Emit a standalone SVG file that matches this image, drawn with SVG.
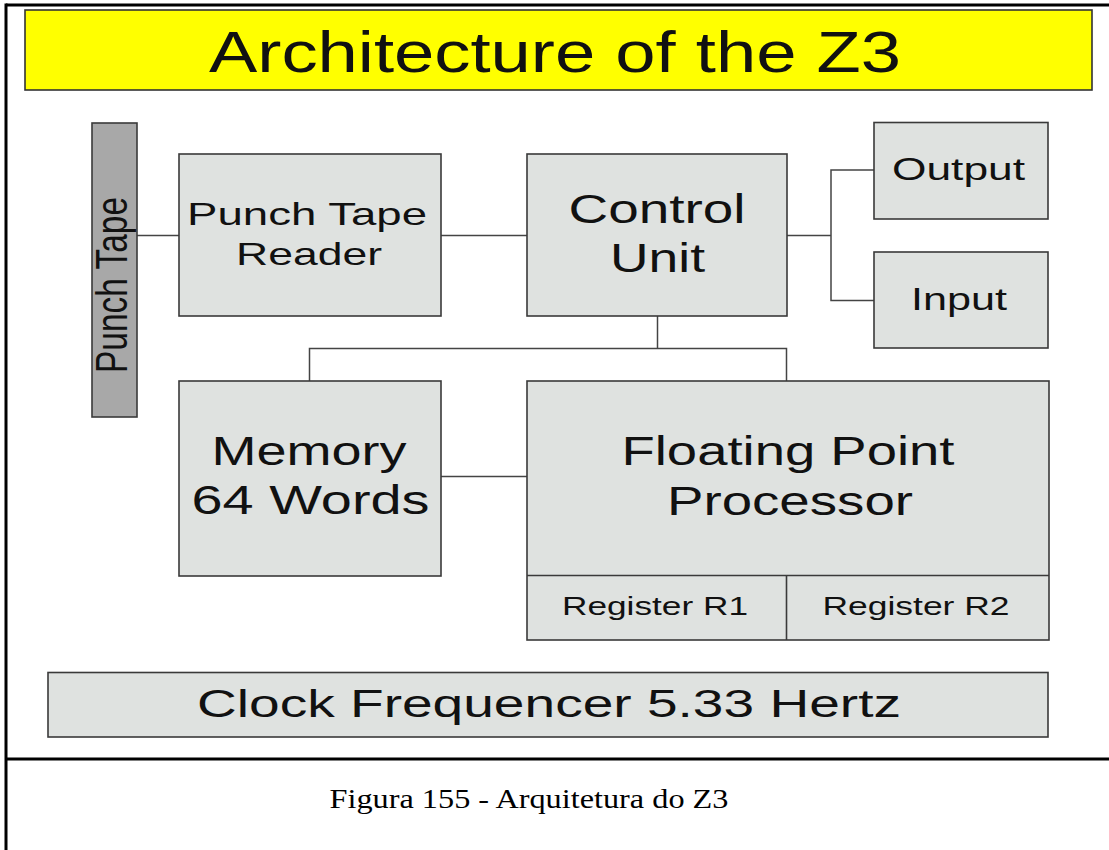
<svg xmlns="http://www.w3.org/2000/svg" width="1109" height="850" viewBox="0 0 1109 850">
<style>
.box{fill:#dfe2e0;stroke:#3a3a3a;stroke-width:1.6}
.tape{fill:#a8a8a8;stroke:#3a3a3a;stroke-width:1.6}
.title{fill:#ffff00;stroke:#333;stroke-width:1.6}
.lbl{font-family:"Liberation Sans",Arial,sans-serif;fill:#111;text-anchor:middle}
.cap{font-family:"Liberation Serif","Times New Roman",serif;fill:#000;text-anchor:middle}
.conn line,.conn polyline{stroke:#444;stroke-width:1.5;fill:none}
</style>
<rect x="0" y="0" width="1109" height="850" fill="#fff"/>
<g id="frame" fill="none" stroke="#000" stroke-width="3">
<line x1="6" y1="5" x2="1109" y2="5"/>
<line x1="6" y1="3.5" x2="6" y2="850"/>
<line x1="6" y1="759" x2="1109" y2="759"/>
</g>
<g id="title">
<rect class="title" x="25" y="10" width="1067" height="80"/>
<text class="lbl" x="555" y="72" font-size="58" textLength="692" lengthAdjust="spacingAndGlyphs">Architecture of the Z3</text>
</g>
<g class="conn" id="connectors">
<line x1="137" y1="235.5" x2="179" y2="235.5"/>
<line x1="441" y1="235.5" x2="527" y2="235.5"/>
<line x1="787" y1="235.5" x2="831" y2="235.5"/>
<polyline points="874,170 831,170 831,300.5 874,300.5"/>
<line x1="657.5" y1="316" x2="657.5" y2="348.5"/>
<polyline points="309.5,381 309.5,348.5 786.5,348.5 786.5,381"/>
<line x1="441" y1="476.5" x2="527" y2="476.5"/>
</g>
<g id="punch-tape">
<rect class="tape" x="92" y="123" width="45" height="294"/>
<text class="lbl" font-size="33" textLength="176" lengthAdjust="spacingAndGlyphs" transform="translate(127,285) scale(1.35,1) rotate(-90)">Punch Tape</text>
</g>
<g id="punch-tape-reader">
<rect class="box" x="179" y="154" width="262" height="162"/>
<text class="lbl" x="307" y="225" font-size="32" textLength="240" lengthAdjust="spacingAndGlyphs">Punch Tape</text>
<text class="lbl" x="309" y="265" font-size="32" textLength="146" lengthAdjust="spacingAndGlyphs">Reader</text>
</g>
<g id="control-unit">
<rect class="box" x="527" y="154" width="260" height="162"/>
<text class="lbl" x="657" y="222.5" font-size="40" textLength="177" lengthAdjust="spacingAndGlyphs">Control</text>
<text class="lbl" x="657.5" y="271.5" font-size="40" textLength="95" lengthAdjust="spacingAndGlyphs">Unit</text>
</g>
<g id="output">
<rect class="box" x="874" y="122.5" width="174" height="96.5"/>
<text class="lbl" x="958.5" y="180" font-size="32" textLength="133" lengthAdjust="spacingAndGlyphs">Output</text>
</g>
<g id="input">
<rect class="box" x="874" y="252" width="174" height="96"/>
<text class="lbl" x="959" y="310" font-size="32" textLength="96" lengthAdjust="spacingAndGlyphs">Input</text>
</g>
<g id="memory">
<rect class="box" x="179" y="381" width="262" height="195"/>
<text class="lbl" x="309" y="465" font-size="40" textLength="195" lengthAdjust="spacingAndGlyphs">Memory</text>
<text class="lbl" x="310.5" y="514" font-size="40" textLength="238" lengthAdjust="spacingAndGlyphs">64 Words</text>
</g>
<g id="floating-point-processor">
<rect class="box" x="527" y="381" width="522" height="259"/>
<line x1="527" y1="575.5" x2="1049" y2="575.5" stroke="#3a3a3a" stroke-width="1.6"/>
<line x1="786.5" y1="575.5" x2="786.5" y2="640" stroke="#3a3a3a" stroke-width="1.6"/>
<text class="lbl" x="788" y="465" font-size="40" textLength="333" lengthAdjust="spacingAndGlyphs">Floating Point</text>
<text class="lbl" x="790" y="515" font-size="40" textLength="246" lengthAdjust="spacingAndGlyphs">Processor</text>
</g>
<g id="register-r1">
<text class="lbl" x="655" y="615" font-size="26" textLength="186" lengthAdjust="spacingAndGlyphs">Register R1</text>
</g>
<g id="register-r2">
<text class="lbl" x="916" y="615" font-size="26" textLength="187" lengthAdjust="spacingAndGlyphs">Register R2</text>
</g>
<g id="clock">
<rect class="box" x="48" y="672.5" width="1000" height="64.5"/>
<text class="lbl" x="549" y="716.5" font-size="39" textLength="704" lengthAdjust="spacingAndGlyphs">Clock Frequencer 5.33 Hertz</text>
</g>
<g id="caption">
<text class="cap" x="529" y="808" font-size="27" textLength="399" lengthAdjust="spacingAndGlyphs">Figura 155 - Arquitetura do Z3</text>
</g>
</svg>
